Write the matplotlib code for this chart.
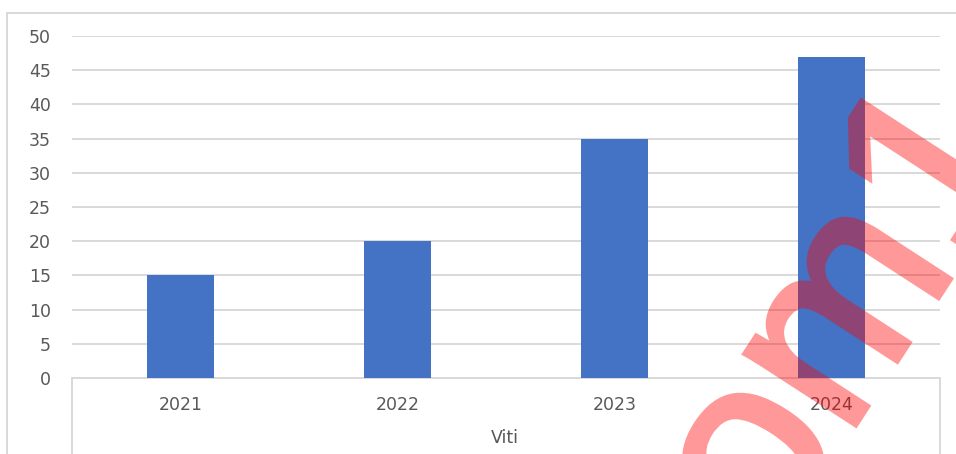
import matplotlib.pyplot as plt
import matplotlib.patheffects as pe
from matplotlib.lines import Line2D

years = ['2021', '2022', '2023', '2024']
values = [15, 20, 35, 47]
y_ticks = [0, 5, 10, 15, 20, 25, 30, 35, 40, 45, 50]
axis_title = 'Viti'

W, H = 956, 454
fig = plt.figure(figsize=(W / 100, H / 100), dpi=100)
plt.rcParams['font.family'] = ['DejaVu Sans']

ax = fig.add_axes([72 / W, (H - 378) / H, 868 / W, 342 / H])
x = range(len(years))
ax.bar(x, values, width=0.31, color='#4472C4', zorder=3)

ax.set_xlim(-0.5, len(years) - 0.5)
ax.set_ylim(0, 50)
ax.set_yticks(y_ticks)
ax.set_xticks(list(x))
ax.set_xticklabels(years)
ax.grid(axis='y', color='#D9D9D9', linewidth=1.4, zorder=0)
for s in ['top', 'right', 'left']:
    ax.spines[s].set_visible(False)
ax.spines['bottom'].set_color('#D9D9D9')
ax.spines['bottom'].set_linewidth(1.4)
ax.tick_params(axis='y', length=0, pad=15, labelsize=12.5, labelcolor='#595959')
ax.tick_params(axis='x', length=0, pad=13, labelsize=12.5, labelcolor='#595959')

fig.text(505 / W, 1 - 438 / H, axis_title, ha='center', va='center',
         fontsize=12.5, color='#595959')

# multi-level category axis dividers and chart border
def pix_line(x0, y0, x1, y1):
    fig.add_artist(Line2D([x0 / W, x1 / W], [1 - y0 / H, 1 - y1 / H],
                          transform=fig.transFigure, color='#D9D9D9', linewidth=1.4))

pix_line(72, 378, 72, H)
pix_line(940, 378, 940, H)
pix_line(7, 13, W, 13)
pix_line(7, 13, 7, H)

# watermark: thickened glyphs drawn opaque, then faded as one layer
def fade(img, dpi):
    img = img.copy()
    img[..., 3] *= 0.4
    return img, 0, 0

wm = fig.text(771 / W, 1 - 555 / H, 'om1', rotation=57, rotation_mode='anchor',
              ha='left', va='baseline', fontsize=179, color='red',
              family='Liberation Sans', zorder=10)
wm.set_path_effects([pe.withStroke(linewidth=4, foreground='red', joinstyle='miter')])
wm.set_agg_filter(fade)

fig.savefig('out.png', dpi=100)
